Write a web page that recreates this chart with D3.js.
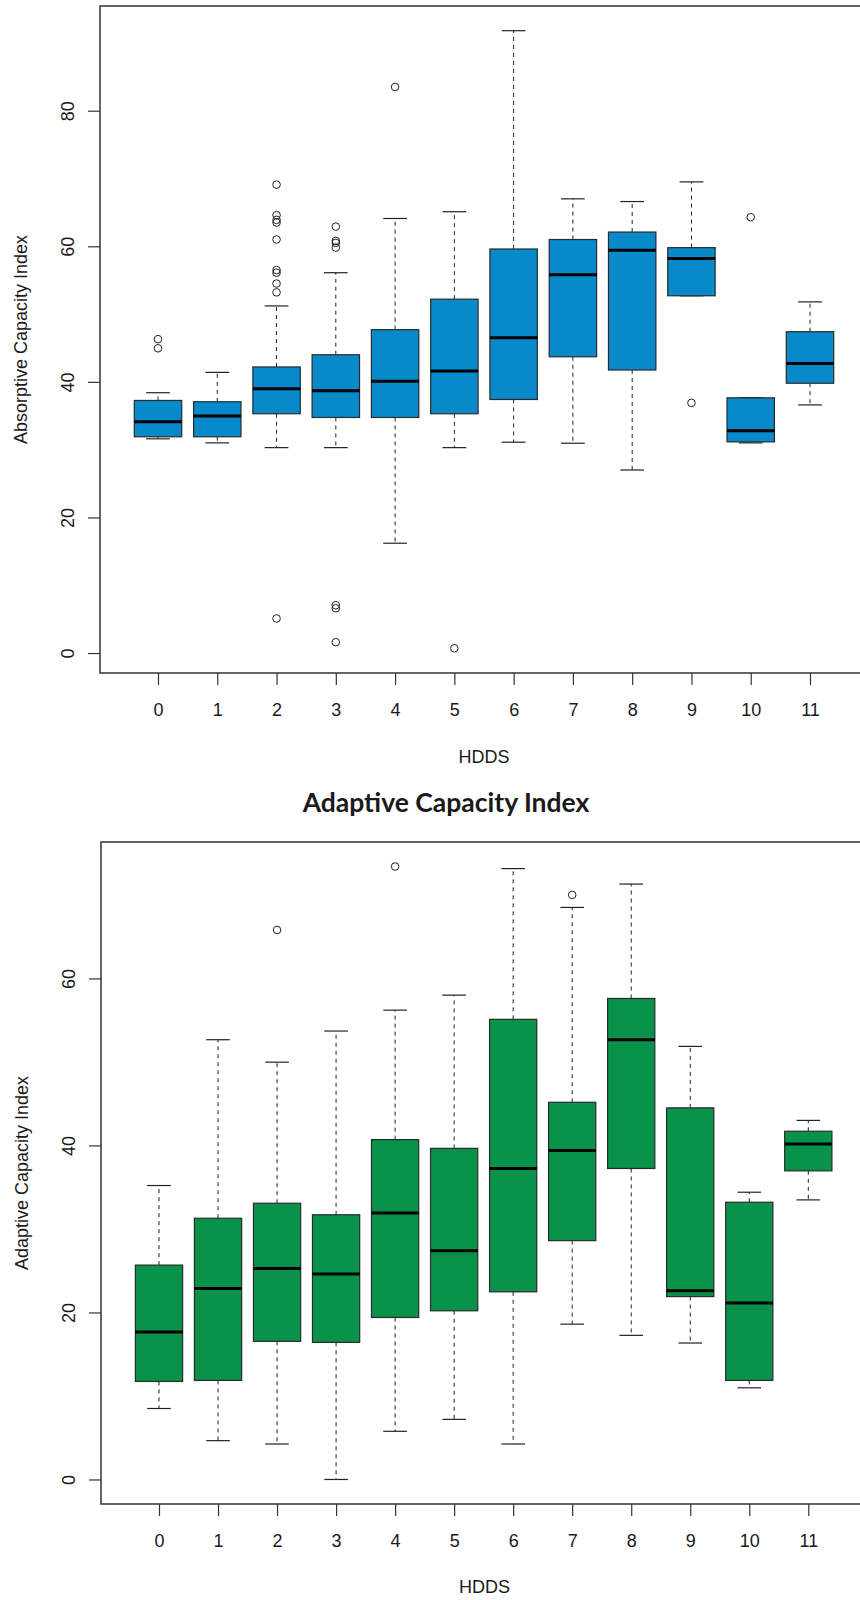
<!DOCTYPE html>
<html>
<head>
<meta charset="utf-8">
<script src="https://cdn.jsdelivr.net/npm/d3@7"></script>
<style>
  body { margin: 0; background: #fff; }
  svg text { font-family: "Liberation Sans", Arial, sans-serif; fill: #1a1a1a; }
</style>
</head>
<body>
<div id="chart"></div>
<script>
const hdds = ['0', '1', '2', '3', '4', '5', '6', '7', '8', '9', '10', '11'];

// Absorptive Capacity Index
const absLower = [31.6, 31.0, 30.3, 30.3, 16.2, 30.3, 31.1, 30.95, 27.0, 52.7, 31.0, 36.6];
const absQ1 = [31.9, 31.9, 35.3, 34.75, 34.75, 35.3, 37.4, 43.7, 41.75, 52.7, 31.15, 39.8];
const absMedian = [34.1, 34.95, 39.0, 38.7, 40.1, 41.6, 46.5, 55.8, 59.4, 58.2, 32.8, 42.7];
const absQ3 = [37.26, 37.07, 42.2, 44.0, 47.7, 52.2, 59.6, 61.0, 62.1, 59.8, 37.65, 47.4];
const absUpper = [38.4, 41.4, 51.2, 56.1, 64.1, 65.1, 91.8, 67.0, 66.6, 69.5, 37.65, 51.8];
const absOutliers = [
    [46.3, 44.95], [],
    [69.1, 64.6, 63.9, 63.5, 61.0, 56.5, 56.1, 54.5, 53.2, 5.1],
    [62.9, 60.8, 60.5, 59.8, 7.05, 6.6, 1.6],
    [83.5], [0.7], [], [], [], [36.9], [64.3], []
];
const absTicks = [0, 20, 40, 60, 80];

// Adaptive Capacity Index
const adaLower = [8.5, 4.65, 4.25, 0, 5.77, 7.2, 4.25, 18.6, 17.26, 16.34, 10.98, 33.48];
const adaQ1 = [11.74, 11.86, 16.54, 16.42, 19.4, 20.2, 22.47, 28.6, 37.24, 21.9, 11.86, 36.96];
const adaMedian = [17.66, 22.87, 25.27, 24.6, 31.9, 27.4, 37.24, 39.4, 52.66, 22.6, 21.14, 40.17];
const adaQ3 = [25.67, 31.28, 33.08, 31.7, 40.7, 39.65, 55.1, 45.17, 57.6, 44.5, 33.2, 41.7];
const adaUpper = [35.2, 52.66, 49.97, 53.7, 56.2, 58.0, 73.15, 68.5, 71.3, 51.86, 34.4, 43.0];
const adaOutliers = [[], [], [65.8], [], [73.4], [], [], [70.0], [], [], [], []];
const adaTicks = [0, 20, 40, 60];

const width = 860;
const height = 1600;

const svg = d3.select('#chart')
    .append('svg')
    .attr('width', width)
    .attr('height', height);

function drawPanel(p) {
    const rows = hdds.map((k, i) => ({
        key: k,
        lo: p.lower[i], q1: p.q1[i], med: p.median[i], q3: p.q3[i], hi: p.upper[i],
        out: p.outliers[i]
    }));

    // R style: data range padded by 4% on each side
    const all = rows.flatMap(d => [d.lo, d.hi, ...d.out]);
    const lo = d3.min(all), hi = d3.max(all);
    const pad = (hi - lo) * 0.04;

    const y = d3.scaleLinear()
        .domain([lo - pad, hi + pad])
        .range([p.bottom, p.top]);

    const x = d3.scalePoint()
        .domain(hdds)
        .range([p.x0, p.x1]);

    const boxW = x.step() * 0.8;
    const g = svg.append('g');

    // whiskers
    g.selectAll('.wh-up').data(rows).enter().append('line')
        .attr('x1', d => x(d.key)).attr('x2', d => x(d.key))
        .attr('y1', d => y(d.q3)).attr('y2', d => y(d.hi))
        .attr('stroke', '#222').attr('stroke-dasharray', '4,4');
    g.selectAll('.wh-lo').data(rows).enter().append('line')
        .attr('x1', d => x(d.key)).attr('x2', d => x(d.key))
        .attr('y1', d => y(d.q1)).attr('y2', d => y(d.lo))
        .attr('stroke', '#222').attr('stroke-dasharray', '4,4');

    // staples
    ['hi', 'lo'].forEach(k => {
        g.selectAll('.st-' + k).data(rows).enter().append('line')
            .attr('x1', d => x(d.key) - boxW / 4).attr('x2', d => x(d.key) + boxW / 4)
            .attr('y1', d => y(d[k])).attr('y2', d => y(d[k]))
            .attr('stroke', '#222').attr('stroke-width', 1.2);
    });

    // boxes
    g.selectAll('.box').data(rows).enter().append('rect')
        .attr('x', d => x(d.key) - boxW / 2)
        .attr('width', boxW)
        .attr('y', d => y(d.q3))
        .attr('height', d => y(d.q1) - y(d.q3))
        .attr('fill', p.fill)
        .attr('stroke', '#2a2a2a')
        .attr('stroke-width', 1.2);

    // medians
    g.selectAll('.med').data(rows).enter().append('line')
        .attr('x1', d => x(d.key) - boxW / 2).attr('x2', d => x(d.key) + boxW / 2)
        .attr('y1', d => y(d.med)).attr('y2', d => y(d.med))
        .attr('stroke', '#000').attr('stroke-width', 3);

    // outliers
    g.selectAll('.out')
        .data(rows.flatMap(d => d.out.map(v => ({ key: d.key, v }))))
        .enter().append('circle')
        .attr('cx', d => x(d.key))
        .attr('cy', d => y(d.v))
        .attr('r', 3.8)
        .attr('fill', 'none')
        .attr('stroke', '#222')
        .attr('stroke-width', 1);

    // frame
    svg.append('rect')
        .attr('x', p.left).attr('y', p.top)
        .attr('width', p.right - p.left).attr('height', p.bottom - p.top)
        .attr('fill', 'none').attr('stroke', '#333').attr('stroke-width', 1.5);

    // y axis
    const yAxis = svg.append('g')
        .attr('transform', `translate(${p.left}, 0)`)
        .call(d3.axisLeft(y).tickValues(p.ticks).tickSize(12).tickFormat(d3.format('d')));
    yAxis.select('.domain').remove();
    yAxis.selectAll('line').attr('stroke', '#333').attr('stroke-width', 1.2);
    yAxis.selectAll('text')
        .attr('x', null).attr('dy', null).attr('y', null)
        .attr('transform', `translate(${p.yTickBase - p.left}, 0) rotate(-90)`)
        .attr('text-anchor', 'middle')
        .style('font-size', '18px')
        .style('font-family', '"Liberation Sans", Arial, sans-serif')
        .attr('fill', '#1a1a1a');

    // x axis
    const xAxis = svg.append('g')
        .attr('transform', `translate(0, ${p.bottom})`)
        .call(d3.axisBottom(x).tickSize(12));
    xAxis.select('.domain').remove();
    xAxis.selectAll('line').attr('stroke', '#333').attr('stroke-width', 1.2);
    xAxis.selectAll('text')
        .attr('y', p.xTickBase - p.bottom).attr('dy', null)
        .style('font-size', '18px')
        .style('font-family', '"Liberation Sans", Arial, sans-serif')
        .attr('fill', '#1a1a1a');

    // axis titles
    svg.append('text')
        .attr('x', (p.left + p.right) / 2)
        .attr('y', p.xTitleBase)
        .attr('text-anchor', 'middle')
        .style('font-size', '18px')
        .text('HDDS');

    svg.append('text')
        .attr('transform', `translate(${p.yTitleBase}, ${(p.top + p.bottom) / 2}) rotate(-90)`)
        .attr('text-anchor', 'middle')
        .style('font-size', '18px')
        .text(p.yTitle);
}

drawPanel({
    lower: absLower, q1: absQ1, median: absMedian, q3: absQ3, upper: absUpper, outliers: absOutliers,
    ticks: absTicks, fill: '#0789ca', yTitle: 'Absorptive Capacity Index',
    left: 100, right: 868, top: 6, bottom: 673,
    x0: 158, x1: 810,
    yTickBase: 73.5, yTitleBase: 26.5, xTickBase: 716, xTitleBase: 762.5
});

svg.append('text')
    .attr('x', 446)
    .attr('y', 811.5)
    .attr('text-anchor', 'middle')
    .style('font-family', 'Lato, "Open Sans", sans-serif')
    .style('font-weight', 'bold')
    .style('font-size', '26.5px')
    .attr('fill', '#000')
    .text('Adaptive Capacity Index');

drawPanel({
    lower: adaLower, q1: adaQ1, median: adaMedian, q3: adaQ3, upper: adaUpper, outliers: adaOutliers,
    ticks: adaTicks, fill: '#08924a', yTitle: 'Adaptive Capacity Index',
    left: 101, right: 868, top: 842, bottom: 1504,
    x0: 159, x1: 808.3,
    yTickBase: 74.5, yTitleBase: 28, xTickBase: 1546.5, xTitleBase: 1593
});
</script>
</body>
</html>
